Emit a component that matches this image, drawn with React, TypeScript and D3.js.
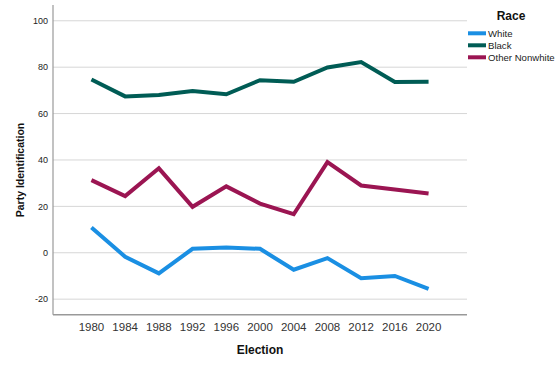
import React from "react";
import * as d3 from "d3";

const years = ["1980","1984","1988","1992","1996","2000","2004","2008","2012","2016","2020"];
const white = [10.9, -1.7, -8.9, 1.7, 2.3, 1.7, -7.3, -2.3, -11, -10, -15.6];
const black = [74.7, 67.4, 68, 69.7, 68.3, 74.4, 73.7, 79.9, 82.2, 73.6, 73.7];
const other = [31.3, 24.4, 36.4, 19.8, 28.6, 21.2, 16.6, 39.1, 29, 27.3, 25.5];
const yTicks = [-20, 0, 20, 40, 60, 80, 100];
const seriesNames = ["White", "Black", "Other Nonwhite"];
const seriesColors = ["#1a8fe3", "#005c55", "#9b1552"];

export default function App() {
  const W = 560, H = 368;
  const left = 53, right = 467, top = 5, bottom = 314.7;
  const x = d3.scalePoint<string>().domain(years).range([left, right]).padding(1.14);
  const y = d3.scaleLinear().domain([-26.7, 106.8]).range([bottom, top]);
  const line = d3.line<number>().x((_, i) => x(years[i]) as number).y(d => y(d));
  const data = [white, black, other];
  const font = "Liberation Sans, Arial, sans-serif";
  return (
    <svg width={W} height={H} style={{ position: "absolute", left: 0, top: 0, background: "#fff" }} fontFamily={font}>
      {yTicks.map(t => (
        <g key={t}>
          <line x1={left} x2={right} y1={y(t)} y2={y(t)} stroke="#d6d6d6" strokeWidth={1} />
          <text x={48} y={y(t)} dy="0.35em" textAnchor="end" fontSize={9} fill="#222">{t}</text>
        </g>
      ))}
      <line x1={left} x2={left} y1={top} y2={bottom} stroke="#999" strokeWidth={1.2} />
      <line x1={left} x2={right} y1={bottom} y2={bottom} stroke="#999" strokeWidth={1.6} />
      {years.map(yr => (
        <text key={yr} x={x(yr)} y={331} textAnchor="middle" fontSize={11.5} fill="#333">{yr}</text>
      ))}
      {data.map((d, i) => (
        <path key={i} d={line(d) || ""} fill="none" stroke={seriesColors[i]} strokeWidth={4} strokeLinejoin="miter" />
      ))}
      <text x={260} y={354} textAnchor="middle" fontSize={12} fontWeight="bold" fill="#111">Election</text>
      <text transform={`translate(24,170) rotate(-90)`} textAnchor="middle" fontSize={10.5} fontWeight="bold" fill="#111">Party Identification</text>
      <text x={511} y={20} textAnchor="middle" fontSize={12} fontWeight="bold" fill="#111">Race</text>
      {seriesNames.map((n, i) => (
        <g key={n}>
          <line x1={468} x2={486} y1={33.3 + i * 12} y2={33.3 + i * 12} stroke={seriesColors[i]} strokeWidth={4} />
          <text x={488} y={33.3 + i * 12} dy="0.35em" fontSize={9.6} fill="#222">{n}</text>
        </g>
      ))}
    </svg>
  );
}
